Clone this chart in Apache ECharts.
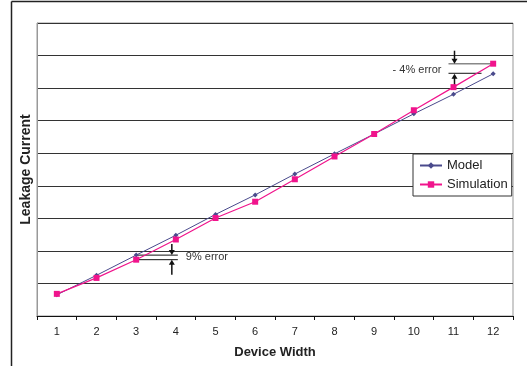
<!DOCTYPE html>
<html><head><meta charset="utf-8">
<script src="https://cdn.jsdelivr.net/npm/echarts@6/dist/echarts.min.js"></script>
<style>html,body{margin:0;padding:0;background:#fff}#c{width:527px;height:366px}</style>
</head><body><div id="c"></div>
<script>
var categories = ['1','2','3','4','5','6','7','8','9','10','11','12'];
var modelValues = [0.65,1.25,1.87,2.48,3.12,3.72,4.36,4.98,5.59,6.21,6.81,7.44];
var simValues = [0.68,1.17,1.73,2.35,3.01,3.51,4.20,4.90,5.59,6.32,7.03,7.75];
var FONT = '"Liberation Sans", Arial, sans-serif';
var chart = echarts.init(document.getElementById('c'), null, {renderer:'canvas'});
var option = {
  animation:false,
  backgroundColor:'#fff',
  grid:{left:37,right:14,top:23,bottom:50,show:true,borderColor:'#999',borderWidth:1,backgroundColor:'transparent'},
  legend:{
    orient:'vertical', left:413, top:154, width:91,
    backgroundColor:'#fff', borderColor:'#333', borderWidth:1, borderRadius:0,
    padding:[5,4,5,6], itemGap:6, itemWidth:22, itemHeight:8,
    textStyle:{fontFamily:FONT,fontSize:13,color:'#222'},
    data:['Model','Simulation']
  },
  xAxis:{
    type:'category', data:categories, boundaryGap:true,
    name:'Device Width', nameLocation:'middle', nameGap:30,
    nameTextStyle:{fontFamily:FONT,fontSize:13,fontWeight:'bold',color:'#222'},
    axisLine:{lineStyle:{color:'#111',width:1}},
    axisTick:{show:true,length:4,lineStyle:{color:'#111'}},
    axisLabel:{fontFamily:FONT,fontSize:11,color:'#222',margin:10}
  },
  yAxis:{
    type:'value', min:0, max:9, interval:1,
    name:'Leakage Current', nameLocation:'middle', nameGap:4, nameRotate:90,
    nameTextStyle:{fontFamily:FONT,fontSize:14,fontWeight:'bold',color:'#222'},
    axisLabel:{show:false}, axisTick:{show:false},
    axisLine:{show:true,lineStyle:{color:'#999'}},
    splitLine:{show:true,lineStyle:{color:'#333',width:1}}
  },
  series:[
    {name:'Model',type:'line',data:modelValues,symbol:'diamond',symbolSize:5,
     itemStyle:{color:'#4a4a8c'},lineStyle:{color:'#4a4a8c',width:1},z:3},
    {name:'Simulation',type:'line',data:simValues,symbol:'rect',symbolSize:6,
     itemStyle:{color:'#f0148c'},lineStyle:{color:'#f0148c',width:1.2},z:4}
  ]
};
chart.setOption(option);

function px(i,v){return chart.convertToPixel({gridIndex:0},[i,v]);}
function arrow(x,y1,y2){
  var dir = y2>y1?1:-1;
  return [
    {type:'line',shape:{x1:x,y1:y1,x2:x,y2:y2-dir*3},style:{stroke:'#111',lineWidth:1.5}},
    {type:'polygon',shape:{points:[[x-3,y2-dir*5],[x+3,y2-dir*5],[x,y2]]},style:{fill:'#111'}}
  ];
}
var g = [];
g.push({type:'line',shape:{x1:11.5,y1:1.5,x2:11.5,y2:366},style:{stroke:'#222',lineWidth:1.5}});
g.push({type:'line',shape:{x1:11.5,y1:1.5,x2:527,y2:1.5},style:{stroke:'#222',lineWidth:1.5}});
var m3 = px(2,modelValues[2]), s3 = px(2,simValues[2]), c4 = px(3,0);
var xa = c4[0]-4;
g.push({type:'line',shape:{x1:m3[0]-1,y1:m3[1],x2:c4[0]+2,y2:m3[1]},style:{stroke:'#111',lineWidth:1}});
g.push({type:'line',shape:{x1:s3[0]-1,y1:s3[1],x2:c4[0]+2,y2:s3[1]},style:{stroke:'#111',lineWidth:1}});
g = g.concat(arrow(xa,m3[1]-11,m3[1]));
g = g.concat(arrow(xa,s3[1]+15,s3[1]));
g.push({type:'text',x:c4[0]+10,y:(m3[1]+s3[1])/2,style:{text:'9% error',font:'11px '+FONT,fill:'#333',verticalAlign:'middle'}});
var m12 = px(11,modelValues[11]), s12 = px(11,simValues[11]), c11 = px(10,0);
var xb = c11[0]+1;
g.push({type:'line',shape:{x1:c11[0]-5,y1:s12[1],x2:s12[0],y2:s12[1]},style:{stroke:'#888',lineWidth:1.5}});
g.push({type:'line',shape:{x1:c11[0]-5,y1:m12[1]-0.5,x2:c11[0]+28,y2:m12[1]-0.5},style:{stroke:'#111',lineWidth:1}});
g = g.concat(arrow(xb,s12[1]-13,s12[1]));
g = g.concat(arrow(xb,m12[1]+14,m12[1]));
g.push({type:'text',x:c11[0]-12,y:(m12[1]+s12[1])/2+1,style:{text:'- 4% error',font:'11px '+FONT,fill:'#333',verticalAlign:'middle',align:'right'}});
chart.setOption({graphic:{elements:g}});
</script></body></html>
